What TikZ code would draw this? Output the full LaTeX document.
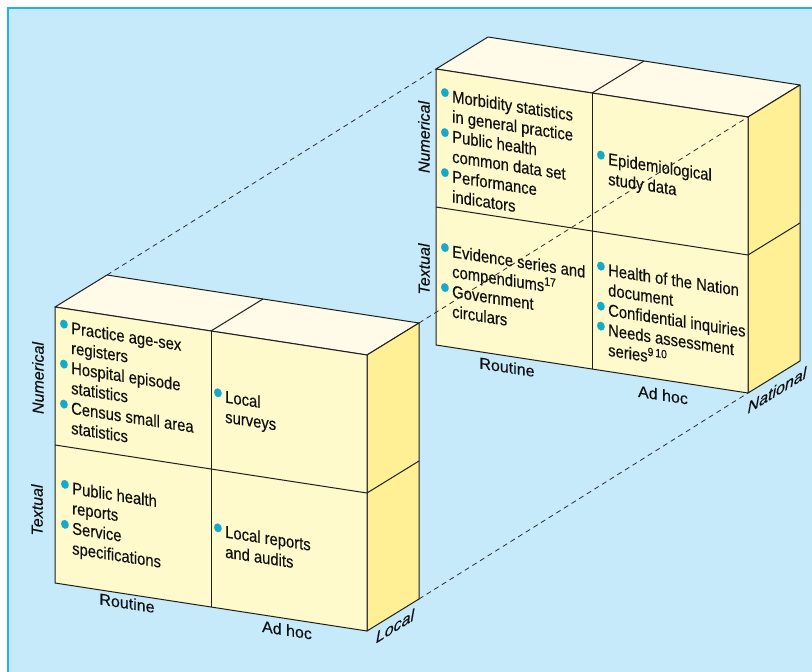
\documentclass[tikz,border=0pt]{standalone}
\usepackage{fontspec}
\setmainfont{Liberation Sans}
\newfontfamily\cellfamily[FakeStretch=0.87,FakeBold=0.3]{Liberation Sans}
\newfontfamily\labelfamily[FakeBold=0.2]{Liberation Sans}
\definecolor{panel}{RGB}{198,234,250}
\definecolor{panelborder}{RGB}{30,180,230}
\definecolor{frontcol}{RGB}{255,250,204}
\definecolor{topcol}{RGB}{255,251,232}
\definecolor{sidecol}{RGB}{255,240,150}
\definecolor{edgecol}{RGB}{30,30,30}
\definecolor{linkcol}{RGB}{45,45,45}
\definecolor{bulcol}{RGB}{20,170,200}
\definecolor{txtcol}{RGB}{15,15,15}
\newcommand\bul{\llap{\raisebox{-2pt}{\textcolor{bulcol}{\fontsize{32}{32}\selectfont\textbullet}}\hspace{2.4pt}}}
\tikzset{
  celltext/.style={anchor=north west, inner sep=0pt, align=left, text=txtcol,
    font=\cellfamily\fontsize{17}{20}\selectfont, transform shape},
  axislabel/.style={inner sep=0pt, text=txtcol, font=\labelfamily\fontsize{16}{16}\selectfont, transform shape},
  sidelabel/.style={inner sep=0pt, text=txtcol, font=\labelfamily\itshape\fontsize{16}{16}\selectfont},
  edge/.style={draw=edgecol, line width=1pt, line join=round},
  link/.style={draw=linkcol, line width=0.8pt, dash pattern=on 5pt off 4pt},
}
\newcommand\cubeshape[2]{%
  \begin{scope}[shift={#1}]
    \coordinate (#2-ftl) at (0,0);
    \coordinate (#2-ftr) at (312,48);
    \coordinate (#2-fbr) at (312,324);
    \coordinate (#2-fbl) at (0,276);
    \coordinate (#2-btl) at (52,-32);
    \coordinate (#2-btr) at (364,16);
    \coordinate (#2-bbr) at (364,292);
    \filldraw[fill=topcol, edge] (#2-ftl) -- (#2-btl) -- (#2-btr) -- (#2-ftr) -- cycle;
    \filldraw[fill=sidecol, edge] (#2-ftr) -- (#2-btr) -- (#2-bbr) -- (#2-fbr) -- cycle;
    \filldraw[fill=frontcol, edge] (#2-ftl) -- (#2-ftr) -- (#2-fbr) -- (#2-fbl) -- cycle;
    \draw[edge] (156,24) -- (156,300);
    \draw[edge] (0,138) -- (312,186);
    \draw[edge] (156,24) -- (208,-8);
    \draw[edge] (312,186) -- (364,154);
  \end{scope}}
\begin{document}
\begin{tikzpicture}[x=1pt,y=-1pt]
\useasboundingbox (0,0) rectangle (812,672);
\fill[white] (0,0) rectangle (812,672);
\filldraw[fill=panel, draw=panelborder, line width=2pt] (8.3,8.3) rectangle (840,700);

\cubeshape{(436,69)}{R}
\cubeshape{(55,307)}{L}

% left cube texts
\begin{scope}[shift={(55,307)}, yslant=-0.154]
  \node[celltext] (lnr) at (16,11.2) {\bul Practice age-sex\\ registers\\ \bul Hospital episode\\ statistics\\ \bul Census small area\\ statistics};
  \node[celltext] (lna) at (170,56.2) {\bul Local\\ surveys};
  \node[celltext] (ltr) at (17,171.3) {\bul Public health\\ reports\\ \bul Service\\ specifications};
  \node[celltext] (lta) at (170,191.2) {\bul Local reports\\ and audits};
  \node[axislabel] (lrout) at (72,284.9) {Routine};
  \node[axislabel] (ladhoc) at (232,287.3) {Ad hoc};
\end{scope}

% right cube texts
\begin{scope}[shift={(436,69)}, yslant=-0.154]
  \node[celltext] (rnr) at (16,17.7) {\bul Morbidity statistics\\ in general practice\\ \bul Public health\\ common data set\\ \bul Performance\\ indicators};
  \node[celltext] (rna) at (172,56.2) {\bul Epidemiological\\ study data};
  \node[celltext] (rtr) at (16,172.7) {\bul Evidence series and\\ compendiums\textsuperscript{17}\\ \bul Government\\ circulars};
  \node[celltext] (rta) at (172,167.2) {\bul Health of the Nation\\ document\\ \bul Confidential inquiries\\ \bul Needs assessment\\ series\textsuperscript{9\,10}};
  \node[axislabel] (rrout) at (71,287.1) {Routine};
  \node[axislabel] (radhoc) at (227,291) {Ad hoc};
\end{scope}

% side labels
\node[sidelabel, rotate=90] (lnum) at (38,378) {Numerical};
\node[sidelabel, rotate=90] (ltex) at (37,510) {Textual};
\node[sidelabel, rotate=90] (rnum) at (424,137) {Numerical};
\node[sidelabel, rotate=90] (rtex) at (424,269) {Textual};
\node[sidelabel, yslant=0.615] (local) at (395,626) {Local};
\node[sidelabel, yslant=0.615] (national) at (777,390) {National};

% dashed links
\draw[link] (L-btl) -- (R-ftl);
\draw[link] (L-btr) -- (R-ftr);
\draw[link] (L-bbr) -- (R-fbr);
\end{tikzpicture}
\end{document}
